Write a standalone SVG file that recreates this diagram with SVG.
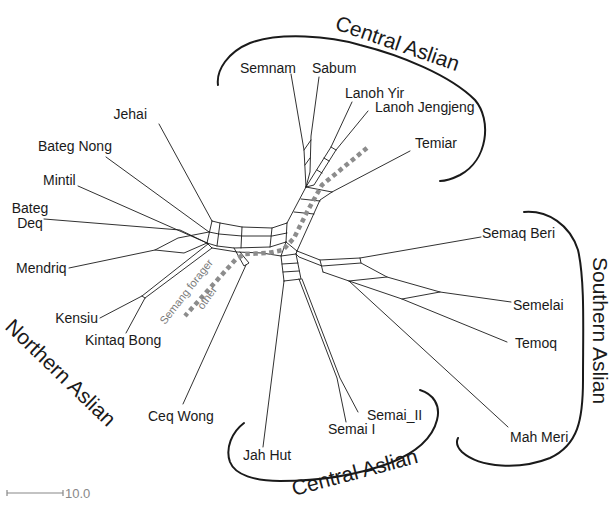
<svg xmlns="http://www.w3.org/2000/svg" width="613" height="506" viewBox="0 0 613 506">
<style>
.e{fill:none;stroke:#1a1a1a;stroke-width:0.9;stroke-linejoin:round;stroke-linecap:round}
.t{font-family:"Liberation Sans",Arial,Helvetica,sans-serif;font-size:14px;fill:#1a1a1a}
.g{font-family:"Liberation Sans",Arial,Helvetica,sans-serif;font-size:21px;fill:#1a1a1a}
.br{fill:none;stroke:#1a1a1a;stroke-width:2;stroke-linecap:round}
.dot{fill:none;stroke:#8c8c8c;stroke-width:4.5;stroke-dasharray:4.5 3.5}
.s{font-family:"Liberation Sans",Arial,Helvetica,sans-serif;font-size:11px;fill:#7a7a7a}
</style>
<rect width="613" height="506" fill="#fff"/>

<!-- network edges -->
<g id="connectors" class="e">
  <!-- central box -->
  <path d="M212,221 L220,223 L242,227 L272,228 L287,223"/>
  <path d="M209,232 L219,234 L242,236 L272,236 L287,233"/>
  <path d="M207,243 L217,246 L234,248 L270,247 L286,242"/>
  <path d="M212,221 L207,243 M220,223 L217,246 M242,227 L241,248 M272,228 L270,247 M287,223 L286,242"/>
  <path d="M207,243 L212,248 L237,252 L262,253 L281,256"/>
  <!-- upper band -->
  <path d="M287,223 L306,187"/>
  <path d="M297,251 L320,200 L332,192"/>
  <path d="M306,187 L332,192 M301,199 L320,201 M294,212 L314,214"/>
  <!-- Semnam / Sabum split -->
  <path d="M291,74 L304,150 L306,187"/>
  <path d="M319,77 L311,136 L310,172 L306,187"/>
  <path d="M304,150 L311,140 M305,165 L310,158"/>
  <!-- Lanoh ladder -->
  <path d="M352,102 L331,147 L309,182 L306,187"/>
  <path d="M368,111 L336,150 L314,185 L306,187"/>
  <path d="M331,147 L336,150 M324,158 L329,161 M317,170 L322,173"/>
  <!-- Temiar -->
  <path d="M332,192 L410,151"/>
  <!-- left side -->
  <path d="M159,124 L212,221"/>
  <path d="M106,157 L209,232"/>
  <path d="M78,186 L207,243"/>
  <path d="M44,219 L180,230 L207,243"/>
  <path d="M69,268 L155,250 L178,238 L209,232"/>
  <path d="M155,250 L184,253 L207,243"/>
  <!-- Kensiu / Kintaq Bong band -->
  <path d="M208,244 L142,296 L100,318"/>
  <path d="M212,248 L145,298 L126,333"/>
  <path d="M142,296 L145,298"/>
  <!-- Ceq Wong -->
  <path d="M234,248 L244,266 L249,263 L240,252"/>
  <path d="M246,265 L183,404"/>
  <!-- Semai ladder and Jah Hut -->
  <path d="M286,242 L297,251 M286,242 L281,256 L296,254 L297,251"/>
  <path d="M281,256 L284,281 M296,254 L301,279 M282,264 L298,263 M283,272 L299,271 M284,281 L301,279"/>
  <path d="M284,281 L263,447"/>
  <path d="M299,279 L337,378 L346,422 M302,279 L340,378 L358,412"/>
  <!-- southern split -->
  <path d="M297,251 L320,260 L360,258 L481,237"/>
  <path d="M296,254 L299,257 L322,266 L361,263 L387,277 L440,292 L511,302"/>
  <path d="M320,260 L323,272 M360,258 L361,263"/>
  <path d="M323,272 L349,281 L508,427"/>
  <path d="M349,281 L387,277 M349,281 L402,299 L507,342 M402,299 L440,292"/>
</g>

<!-- forager / other divide -->
<g id="divide">
  <path class="dot" d="M367,148 L322,185 L307,212 L294,238 L283,250 L268,253 L245,254 L236,259 L185,316"/>
  <text class="s" transform="translate(165,325) rotate(-52)">Semang forager</text>
  <text class="s" text-anchor="middle" transform="translate(210,300) rotate(-54)">other</text>
</g>

<!-- taxa -->
<g id="n-semnam"><text class="t" x="240" y="73">Semnam</text></g>
<g id="n-sabum"><text class="t" x="312" y="73">Sabum</text></g>
<g id="n-lanoh-yir"><text class="t" x="345" y="98">Lanoh Yir</text></g>
<g id="n-lanoh-jengjeng"><text class="t" x="375" y="112">Lanoh Jengjeng</text></g>
<g id="n-temiar"><text class="t" x="415" y="148">Temiar</text></g>
<g id="n-jehai"><text class="t" x="147" y="119" text-anchor="end">Jehai</text></g>
<g id="n-bateg-nong"><text class="t" x="38" y="151">Bateg Nong</text></g>
<g id="n-mintil"><text class="t" x="43" y="185">Mintil</text></g>
<g id="n-bateg-deq"><text class="t" x="30" y="213" text-anchor="middle">Bateg</text><text class="t" x="30" y="228" text-anchor="middle">Deq</text></g>
<g id="n-mendriq"><text class="t" x="16" y="273">Mendriq</text></g>
<g id="n-kensiu"><text class="t" x="98" y="323" text-anchor="end">Kensiu</text></g>
<g id="n-kintaq-bong"><text class="t" x="85" y="345">Kintaq Bong</text></g>
<g id="n-ceq-wong"><text class="t" x="148" y="421">Ceq Wong</text></g>
<g id="n-jah-hut"><text class="t" x="243" y="460">Jah Hut</text></g>
<g id="n-semai-1"><text class="t" x="328" y="434">Semai I</text></g>
<g id="n-semai-2"><text class="t" x="367" y="420">Semai_II</text></g>
<g id="n-mah-meri"><text class="t" x="510" y="442">Mah Meri</text></g>
<g id="n-temoq"><text class="t" x="515" y="348">Temoq</text></g>
<g id="n-semelai"><text class="t" x="513" y="310">Semelai</text></g>
<g id="n-semaq-beri"><text class="t" x="482" y="238">Semaq Beri</text></g>

<!-- language groups -->
<g id="grp-central-top">
  <path class="br" d="M218,85 C216,70 228,52 250,43 C280,32 330,36 360,45 C400,55 450,75 475,100 C492,120 488,160 460,175 C452,179 446,181 440,181"/>
  <text class="g" transform="translate(334,29) rotate(19)">Central Aslian</text>
</g>
<g id="grp-southern">
  <path class="br" d="M524,212 C548,210 570,225 578,250 C585,280 583,330 583,380 C583,420 578,445 550,458 C520,470 480,468 462,452 C457,447 456,442 458,438"/>
  <text class="g" transform="translate(593,257) rotate(90)">Southern Aslian</text>
</g>
<g id="grp-central-bottom">
  <path class="br" d="M244,423 C232,432 225,448 230,462 C235,475 255,481 280,481 C320,481 360,474 390,463 C415,453 432,440 437,420 C441,405 433,394 420,390"/>
  <text class="g" transform="translate(294,496) rotate(-15)">Central Aslian</text>
</g>
<g id="grp-northern">
  <text class="g" transform="translate(4,328) rotate(44)">Northern Aslian</text>
</g>

<!-- scale -->
<g id="scale">
  <path d="M7,493 H63 M7,490 V496 M63,490 V496" stroke="#888" stroke-width="1.2" fill="none"/>
  <text x="65" y="498" font-family="Liberation Sans, Arial, sans-serif" font-size="13" fill="#888">10.0</text>
</g>
</svg>
